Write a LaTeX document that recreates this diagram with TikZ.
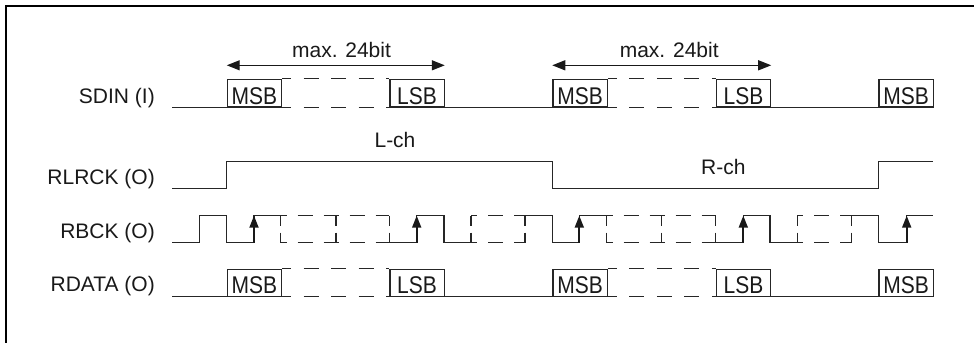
\documentclass[tikz,border=0pt]{standalone}
\usepackage{fontspec}
\setmainfont{Liberation Sans}
\usetikzlibrary{arrows.meta}
\tikzset{
  sig/.style={line width=1.2pt, draw=black!85},
  dsh/.style={sig, dash pattern=on 15pt off 12.5pt, dash phase=6pt},
  cdsh/.style={sig, dash pattern=on 15pt off 11pt, dash phase=9pt},
  vdsh/.style={sig, dash pattern=on 10pt off 7pt},
  bitbox/.style={sig, draw, rectangle, inner sep=0pt, minimum width=54.3pt, anchor=south west},
  txt/.style={font=\fontsize{21}{25}\selectfont, inner sep=0pt, text=black!90},
  bittxt/.style={txt, anchor=base, yscale=1.15},
  siglabel/.style={txt, anchor=base east},
  dimarrow/.style={line width=1.3pt, draw=black!90, {Triangle[length=13pt,width=10pt]}-{Triangle[length=13pt,width=10pt]}},
  edgearrow/.style={line width=1.9pt, draw=black!90, -{Triangle[length=12pt,width=9pt]}},
  frameline/.style={line width=2.3pt, draw=black}
}
\newcommand{\dataRow}[3]{% prefix, y top, y bottom
  \draw[sig] (172.3,#3) -- (226.7,#3);
  \node[bitbox, minimum height={#3-#2}] (#1Ma) at (226.7,#3) {};
  \node[bitbox, minimum height={#3-#2}] (#1La) at (389.3,#3) {};
  \node[bitbox, minimum height={#3-#2}] (#1Mb) at (552.3,#3) {};
  \node[bitbox, minimum height={#3-#2}] (#1Lb) at (715.7,#3) {};
  \node[bitbox, minimum height={#3-#2}] (#1Mc) at (878.3,#3) {};
  \foreach \b/\t in {Ma/MSB,La/LSB,Mb/MSB,Lb/LSB,Mc/MSB}{
    \node[bittxt] (#1\b T) at ([yshift=2.8pt]#1\b.south) {\t};
  }
  \draw[dsh] (#1Ma.north east) -- (#1La.north west);
  \draw[dsh] (#1Ma.south east) -- (#1La.south west);
  \draw[dsh] (#1Mb.north east) -- (#1Lb.north west);
  \draw[dsh] (#1Mb.south east) -- (#1Lb.south west);
  \draw[sig] (#1La.south east) -- (#1Mb.south west);
  \draw[sig] (#1Lb.south east) -- (#1Mc.south west);
}
\begin{document}
\begin{tikzpicture}[x=1pt,y=-1pt]
\useasboundingbox (0,0) rectangle (974,343);
\draw[frameline] (974,6) -- (6,6) -- (6,343);

% signal labels
\node[siglabel] (lSDIN) at (155,103.5) {SDIN (I)};
\node[siglabel] (lRLRCK) at (155,184) {RLRCK (O)};
\node[siglabel] (lRBCK) at (155,238) {RBCK (O)};
\node[siglabel] (lRDATA) at (155,291.5) {RDATA (O)};

% SDIN and RDATA
\dataRow{sd}{80}{107.5}
\dataRow{rd}{270}{296.7}

% word length arrows
\draw[dimarrow] ([yshift=13.5pt]sdMa.north west) -- ([yshift=13.5pt]sdLa.north east);
\draw[dimarrow] ([yshift=13.5pt]sdMb.north west) -- ([yshift=13.5pt]sdLb.north east);
\node[txt, anchor=base] (maxa) at (341.5,57.5) {max. 24bit};
\node[txt, anchor=base] (maxb) at (669.2,57.5) {max. 24bit};

% RLRCK
\draw[sig] (172.3,188.3) -- (226.7,188.3) -- (226.7,161.7) -- (552.3,161.7)
  -- (552.3,188.3) -- (878.3,188.3) -- (878.3,161.7) -- (932.7,161.7);
\node[txt, anchor=base] (lch) at (395,147.7) {L-ch};
\node[txt, anchor=base] (rch) at (723.3,174.3) {R-ch};

% RBCK solid parts
\def\H{215.7}\def\L{242.7}
\draw[sig] (172.3,\L) -- (199.3,\L) -- (199.3,\H) -- (226.7,\H) -- (226.7,\L) -- (254,\L) -- (254,\H) -- (280.7,\H);
\draw[sig] (389.3,\L) -- (416.7,\L) -- (416.7,\H) -- (444,\H) -- (444,\L) -- (471,\L);
\draw[sig] (525,\H) -- (552.3,\H) -- (552.3,\L) -- (579.3,\L) -- (579.3,\H) -- (606.7,\H);
\draw[sig] (715.7,\L) -- (743.3,\L) -- (743.3,\H) -- (770,\H) -- (770,\L) -- (797.3,\L);
\draw[sig] (851.7,\H) -- (878.3,\H) -- (878.3,\L) -- (906.7,\L) -- (906.7,\H) -- (932.7,\H);

% RBCK dashed parts
\foreach \a/\b in {280.7/389.3, 471/525, 606.7/715.7, 797.3/851.7}{
  \draw[cdsh] (\a,\H) -- (\b,\H);
  \draw[cdsh] (\a,\L) -- (\b,\L);
  \draw[vdsh] (\a,\H) -- (\a,\L);
  \draw[vdsh] (\b,\H) -- (\b,\L);
}
\draw[vdsh] (336,\H) -- (336,\L);
\draw[vdsh] (661.2,\H) -- (661.2,\L);

% rising edge arrows
\foreach \x in {254, 416.7, 579.3, 743.3, 906.7}{
  \draw[edgearrow] (\x,\L) -- (\x,\H);
}
\end{tikzpicture}
\end{document}
